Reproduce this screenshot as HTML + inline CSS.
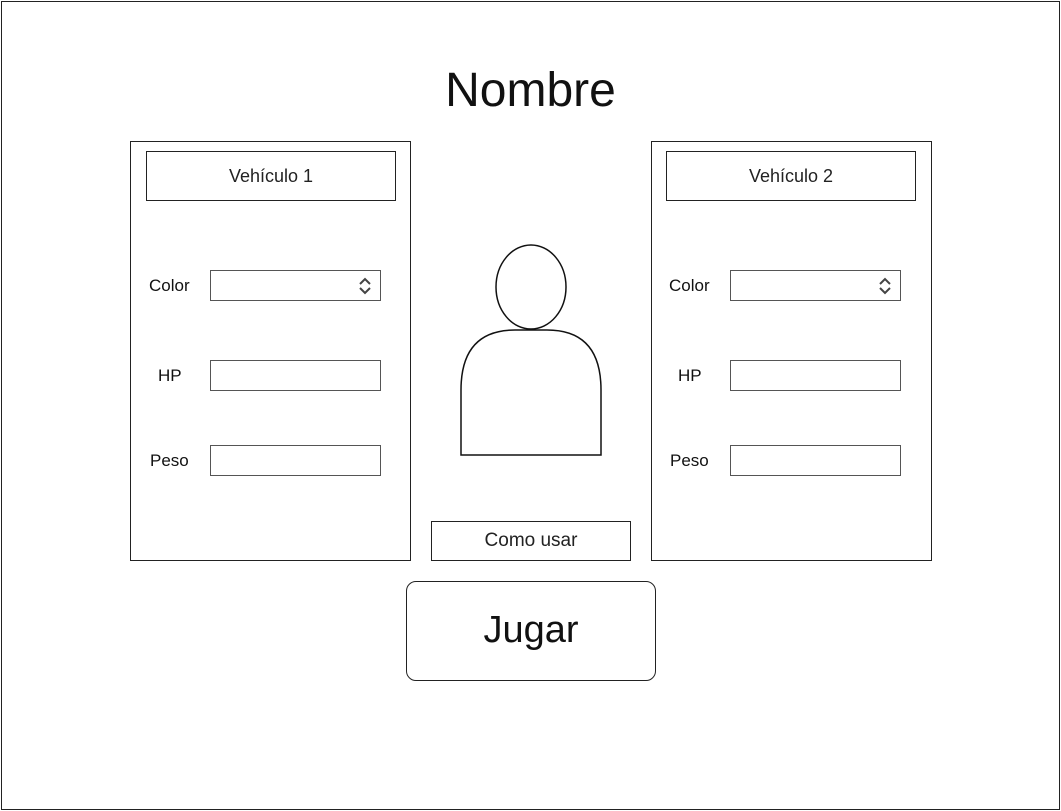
<!DOCTYPE html>
<html><head><meta charset="utf-8"><style>
body{margin:0;width:1061px;height:811px;background:#fff;font-family:"Liberation Sans",sans-serif;position:relative;overflow:hidden}
.a{position:absolute;box-sizing:border-box}
.b{border:1.5px solid #222}
.t{position:absolute;color:#111;font-size:17px}
.in{position:absolute;box-sizing:border-box;border:1px solid #555;background:#fff}
</style></head><body>
<div class="a b" style="left:1px;top:1px;width:1059px;height:809px"></div>
<div class="t" style="left:0;width:1061px;text-align:center;top:63px;font-size:48px">Nombre</div>

<div class="a b" style="left:130px;top:141px;width:281px;height:420px"></div>
<div class="a b" style="left:146px;top:151px;width:250px;height:50px;text-align:center;line-height:48px;font-size:18px;color:#222">Vehículo 1</div>
<div class="t" style="left:149px;top:276px">Color</div>
<div class="in" style="left:210px;top:270px;width:171px;height:31px"><svg style="position:absolute;right:8px;top:6px" width="14" height="18"><path d="M2 7 L7 2 L12 7 M2 11 L7 16 L12 11" stroke="#444" stroke-width="2" fill="none"/></svg></div>
<div class="t" style="left:158px;top:366px">HP</div>
<div class="in" style="left:210px;top:360px;width:171px;height:31px"></div>
<div class="t" style="left:150px;top:451px">Peso</div>
<div class="in" style="left:210px;top:445px;width:171px;height:31px"></div>

<div class="a b" style="left:651px;top:141px;width:281px;height:420px"></div>
<div class="a b" style="left:666px;top:151px;width:250px;height:50px;text-align:center;line-height:48px;font-size:18px;color:#222">Vehículo 2</div>
<div class="t" style="left:669px;top:276px">Color</div>
<div class="in" style="left:730px;top:270px;width:171px;height:31px"><svg style="position:absolute;right:8px;top:6px" width="14" height="18"><path d="M2 7 L7 2 L12 7 M2 11 L7 16 L12 11" stroke="#444" stroke-width="2" fill="none"/></svg></div>
<div class="t" style="left:678px;top:366px">HP</div>
<div class="in" style="left:730px;top:360px;width:171px;height:31px"></div>
<div class="t" style="left:670px;top:451px">Peso</div>
<div class="in" style="left:730px;top:445px;width:171px;height:31px"></div>

<svg class="a" style="left:455px;top:240px" width="155" height="222">
<ellipse cx="76" cy="47" rx="35" ry="42" fill="none" stroke="#111" stroke-width="1.5"/>
<path d="M6 215 L6 150 Q6 90 60 90 L92 90 Q146 90 146 150 L146 215 Z" fill="none" stroke="#111" stroke-width="1.5"/>
</svg>

<div class="a b" style="left:431px;top:521px;width:200px;height:40px;text-align:center;line-height:38px;font-size:19px;color:#222">Como usar</div>
<div class="a b" style="left:406px;top:581px;width:250px;height:100px;border-radius:10px;text-align:center;line-height:96px;font-size:38px;color:#111">Jugar</div>
</body></html>
